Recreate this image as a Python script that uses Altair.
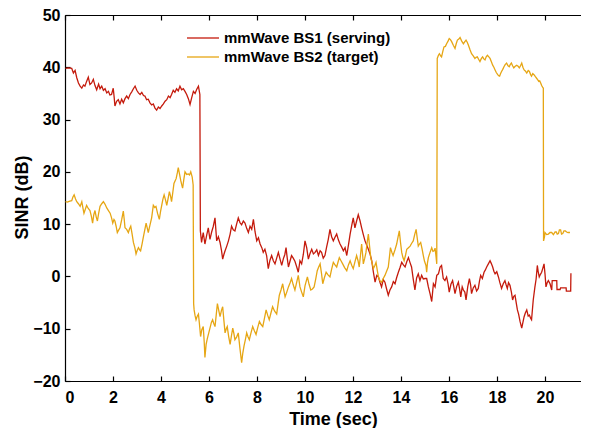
import altair as alt
import pandas as pd

# ---------------- data ----------------
series_names = ["mmWave BS1 (serving)", "mmWave BS2 (target)"]
series_colors = ["#C41A0C", "#E6A614"]

t_bs1 = [0.02, 0.15, 0.28, 0.35, 0.42, 0.49, 0.56, 0.63, 0.70, 0.77, 0.83, 0.90, 0.97, 1.04, 1.11, 1.18,
         1.25, 1.32, 1.40, 1.46, 1.53, 1.60, 1.67, 1.74, 1.81, 1.87, 1.94, 2.01, 2.05, 2.08, 2.15, 2.22,
         2.29, 2.36, 2.43, 2.50, 2.57, 2.64, 2.71, 2.78, 2.85, 2.92, 2.99, 3.06, 3.13, 3.20, 3.27, 3.33,
         3.40, 3.47, 3.54, 3.61, 3.68, 3.75, 3.82, 3.89, 3.96, 4.03, 4.10, 4.17, 4.24, 4.31, 4.38, 4.44,
         4.51, 4.58, 4.65, 4.72, 4.79, 4.86, 4.93, 5.00, 5.07, 5.14, 5.21, 5.28, 5.35, 5.42, 5.49, 5.56,
         5.62, 5.64, 5.69, 5.76, 5.83, 5.90, 5.97, 6.04, 6.11, 6.18, 6.25, 6.32, 6.39, 6.46, 6.52, 6.57,
         6.62, 6.67, 6.74, 6.81, 6.88, 6.94, 7.01, 7.08, 7.15, 7.22, 7.29, 7.36, 7.43, 7.50, 7.57, 7.64,
         7.71, 7.78, 7.85, 7.92, 7.99, 8.06, 8.13, 8.20, 8.26, 8.33, 8.40, 8.47, 8.54, 8.61, 8.68, 8.75,
         8.82, 8.89, 8.96, 9.03, 9.10, 9.16, 9.21, 9.26, 9.31, 9.38, 9.44, 9.51, 9.58, 9.65, 9.72, 9.79,
         9.86, 9.93, 10.00, 10.07, 10.14, 10.21, 10.28, 10.35, 10.42, 10.49, 10.56, 10.63, 10.69, 10.76,
         10.83, 10.90, 10.97, 11.04, 11.11, 11.18, 11.25, 11.32, 11.39, 11.46, 11.53, 11.60, 11.67, 11.74,
         11.81, 11.88, 11.95, 12.01, 12.08, 12.15, 12.22, 12.29, 12.36, 12.43, 12.50, 12.57, 12.64, 12.71,
         12.78, 12.85, 12.92, 12.99, 13.06, 13.13, 13.19, 13.26, 13.33, 13.40, 13.47, 13.54, 13.61, 13.68,
         13.75, 13.82, 13.89, 13.96, 14.03, 14.10, 14.17, 14.24, 14.31, 14.38, 14.44, 14.51, 14.58, 14.65,
         14.72, 14.79, 14.86, 14.93, 15.00, 15.07, 15.14, 15.21, 15.28, 15.35, 15.42, 15.49, 15.56, 15.63,
         15.69, 15.76, 15.83, 15.90, 15.96, 16.01, 16.08, 16.15, 16.20, 16.25, 16.32, 16.39, 16.44, 16.49,
         16.55, 16.60, 16.66, 16.71, 16.78, 16.85, 16.90, 16.94, 17.01, 17.08, 17.15, 17.22, 17.27, 17.32,
         17.39, 17.46, 17.51, 17.57, 17.64, 17.71, 17.76, 17.82, 17.87, 17.92, 17.99, 18.06, 18.12, 18.19,
         18.26, 18.33, 18.38, 18.43, 18.48, 18.54, 18.60, 18.65, 18.70, 18.75, 18.80, 18.85, 18.90, 18.96,
         19.03, 19.08, 19.13, 19.18, 19.24, 19.30, 19.35, 19.40, 19.44, 19.51, 19.58, 19.63, 19.68, 19.72,
         19.76, 19.81, 19.86, 19.91, 19.96, 20.00, 20.04, 20.09, 20.14, 20.21, 20.28, 20.30, 20.49, 20.50,
         20.63, 20.65, 20.88, 20.89, 21.07, 21.08]
v_bs1 = [39.8, 39.9, 39.8, 38.9, 39.4, 38.0, 37.0, 36.4, 36.0, 36.6, 36.4, 37.3, 38.1, 36.7, 37.0, 37.7,
         36.5, 35.7, 36.8, 35.9, 36.4, 35.6, 35.9, 35.1, 35.4, 34.7, 34.8, 36.0, 34.2, 32.6, 33.5, 33.8,
         33.0, 33.9, 33.2, 34.0, 34.5, 34.0, 34.8, 35.3, 35.9, 36.4, 35.6, 35.1, 34.8, 35.2, 34.6, 34.5,
         33.8, 33.9, 33.2, 32.8, 33.0, 32.2, 31.8, 32.4, 32.1, 32.6, 33.0, 33.5, 33.8, 34.5, 34.2, 34.8,
         35.6, 35.2, 35.9, 35.5, 36.4, 35.7, 35.9, 35.4, 34.8, 34.0, 32.9, 34.2, 35.4, 35.0, 35.8, 36.4,
         34.8, 8.7, 6.5, 8.4, 6.2, 7.8, 9.3, 7.1, 8.5, 9.6, 11.2, 6.8, 7.6, 6.5, 5.0, 3.3,
         4.2, 4.9, 5.8, 6.8, 8.1, 9.6, 8.9, 8.7, 10.0, 11.2, 10.3, 9.9, 10.6, 10.2, 9.2, 8.4,
         9.6, 9.0, 10.9, 8.5, 6.8, 7.4, 6.2, 5.5, 4.6, 5.2, 4.0, 1.5, 3.1, 4.0, 3.0, 2.4,
         3.5, 4.6, 3.3, 2.1, 3.4, 4.2, 5.5, 3.5, 1.8, 3.0, 4.0, 3.5, 2.9, 1.9, 0.8, 3.0,
         2.4, 4.2, 6.8, 5.5, 3.3, 4.4, 5.2, 4.3, 4.6, 5.1, 4.0, 4.9, 4.6, 3.5,
         4.0, 5.6, 7.1, 9.0, 7.6, 6.8, 7.5, 8.1, 7.0, 6.2, 5.6, 4.9, 5.5, 4.0,
         6.0, 8.1, 9.8, 11.2, 9.3, 10.6, 11.8, 10.7, 9.3, 8.0, 6.8, 6.0, 5.2, 4.3,
         3.0, 0.8, -1.1, 0.2, -0.1, -1.2, -2.0, -0.6, -1.1, -2.4, -3.6, -2.6, -2.0, -1.0,
         -1.4, -0.2, 0.8, 1.7, 2.7, 2.2, 1.8, 2.8, 3.6, 2.6, 1.8, -0.5, -2.6, -0.3,
         0.5, -0.8, 0.2, -0.5, -0.4, -0.4, -2.0, -3.3, -4.8, -1.4, -2.0, 0.2, 0.5, 1.8,
         2.1, -0.4, -0.8, -0.1, -1.4, -3.0, -1.5, -0.8, -2.0, -3.3, -1.9, -1.1, -2.4, -3.9,
         -2.0, -2.6, -3.0, -4.5, -2.0, -0.4, -1.6, -3.3, -2.2, -1.7, -2.8, -2.3, -0.9, 0.2,
         -0.4, 0.8, 1.2, 1.8, 2.4, 3.0, 2.5, 1.8, 1.0, 0.5, 0.9, -0.1, -1.2, -2.3,
         -1.4, -0.8, -1.6, -2.3, -1.2, -1.7, -3.0, -4.5, -3.8, -3.6, -5.0, -6.4, -7.2, -8.6,
         -9.9, -8.8, -7.7, -7.0, -6.4, -7.6, -7.4, -8.0, -8.3, -4.5, -2.0, -0.5, 2.1, 0.8,
         -0.1, 0.4, 0.8, 1.6, 2.4, 0.5, -2.0, -1.2, -0.8, -1.4, -2.6, -0.8, -0.8, -2.5,
         -2.5, -2.2, -2.2, -2.8, -2.8, 0.6]

t_bs2 = [0.02, 0.10, 0.20, 0.28, 0.33, 0.38, 0.44, 0.49, 0.56, 0.63, 0.70, 0.75, 0.79, 0.85, 0.90, 0.97,
         1.04, 1.10, 1.15, 1.20, 1.25, 1.30, 1.35, 1.40, 1.46, 1.53, 1.60, 1.67, 1.74, 1.81, 1.88, 1.94,
         1.99, 2.04, 2.08, 2.13, 2.18, 2.24, 2.29, 2.36, 2.43, 2.47, 2.50, 2.57, 2.64, 2.69, 2.74, 2.80,
         2.85, 2.91, 2.96, 3.01, 3.06, 3.11, 3.15, 3.21, 3.26, 3.32, 3.38, 3.43, 3.47, 3.54, 3.61, 3.65,
         3.68, 3.74, 3.79, 3.86, 3.93, 3.98, 4.03, 4.08, 4.13, 4.19, 4.24, 4.30, 4.35, 4.40, 4.44, 4.49,
         4.54, 4.59, 4.63, 4.68, 4.72, 4.77, 4.82, 4.86, 4.90, 4.95, 5.00, 5.07, 5.14, 5.19, 5.24, 5.30,
         5.34, 5.36, 5.38, 5.42, 5.46, 5.51, 5.56, 5.60, 5.65, 5.70, 5.76, 5.80, 5.83, 5.88, 5.93, 5.99,
         6.04, 6.10, 6.15, 6.20, 6.25, 6.30, 6.35, 6.41, 6.46, 6.52, 6.57, 6.62, 6.67, 6.72, 6.76, 6.82,
         6.88, 6.94, 6.99, 7.04, 7.08, 7.15, 7.22, 7.29, 7.36, 7.41, 7.46, 7.52, 7.57, 7.62, 7.68, 7.75,
         7.82, 7.89, 7.96, 8.03, 8.10, 8.17, 8.24, 8.31, 8.38, 8.45, 8.51, 8.58, 8.65, 8.73, 8.82, 8.88,
         8.93, 9.00, 9.07, 9.12, 9.17, 9.24, 9.31, 9.38, 9.44, 9.51, 9.58, 9.65, 9.72, 9.79, 9.86, 9.93,
         10.00, 10.10, 10.17, 10.24, 10.31, 10.38, 10.45, 10.51, 10.57, 10.63, 10.69, 10.74, 10.81, 10.88,
         10.96, 11.04, 11.11, 11.18, 11.25, 11.32, 11.38, 11.43, 11.50, 11.57, 11.65, 11.74, 11.81, 11.88,
         11.95, 12.01, 12.08, 12.15, 12.21, 12.26, 12.31, 12.36, 12.40, 12.43, 12.49, 12.54, 12.59, 12.64,
         12.69, 12.74, 12.80, 12.85, 12.91, 12.96, 13.01, 13.06, 13.12, 13.19, 13.26, 13.33, 13.40, 13.47,
         13.52, 13.56, 13.62, 13.67, 13.75, 13.82, 13.88, 13.93, 13.98, 14.03, 14.08, 14.13, 14.19, 14.24,
         14.31, 14.38, 14.44, 14.51, 14.57, 14.63, 14.68, 14.72, 14.77, 14.82, 14.88, 14.93, 14.98, 15.04,
         15.07, 15.10, 15.14, 15.21, 15.28, 15.33, 15.38, 15.42, 15.46, 15.49, 15.51, 15.56, 15.60, 15.65,
         15.69, 15.74, 15.79, 15.85, 15.90, 15.96, 16.01, 16.06, 16.11, 16.18, 16.25, 16.30, 16.35, 16.41,
         16.46, 16.53, 16.60, 16.66, 16.71, 16.76, 16.81, 16.88, 16.94, 17.01, 17.08, 17.13, 17.18, 17.24,
         17.29, 17.35, 17.40, 17.45, 17.50, 17.55, 17.60, 17.66, 17.71, 17.77, 17.82, 17.87, 17.92, 17.97,
         18.03, 18.07, 18.11, 18.15, 18.19, 18.24, 18.29, 18.34, 18.40, 18.46, 18.51, 18.55, 18.60, 18.65,
         18.70, 18.76, 18.82, 18.88, 18.93, 18.98, 19.03, 19.08, 19.13, 19.18, 19.24, 19.30, 19.35, 19.40,
         19.44, 19.49, 19.54, 19.60, 19.65, 19.70, 19.74, 19.78, 19.82, 19.86, 19.90, 19.93, 19.94, 19.98,
         20.00, 20.07, 20.14, 20.21, 20.28, 20.35, 20.42, 20.47, 20.51, 20.56, 20.60, 20.65, 20.69, 20.74,
         20.79, 20.85, 20.90, 20.96, 21.04]
v_bs2 = [14.3, 14.2, 14.4, 14.5, 15.2, 15.6, 14.8, 14.3, 13.9, 13.4, 14.3, 13.0, 12.1, 12.9, 13.6, 13.0,
         12.6, 11.5, 10.2, 11.8, 12.6, 11.4, 10.6, 12.0, 13.4, 13.9, 14.3, 13.8, 13.1, 12.6, 12.1, 11.2,
         10.2, 10.9, 10.6, 9.6, 8.4, 8.9, 9.3, 10.8, 12.5, 10.8, 9.3, 9.0, 8.4, 9.1, 9.6, 8.0,
         6.5, 5.5, 4.3, 5.0, 5.5, 5.1, 4.9, 6.2, 7.4, 8.8, 10.2, 9.2, 8.4, 9.8, 11.2, 12.6,
         13.6, 13.2, 13.4, 12.0, 10.9, 12.4, 13.6, 14.8, 15.6, 14.6, 13.6, 15.0, 16.2, 15.3, 14.3, 16.0,
         17.8, 18.3, 18.7, 19.8, 20.8, 19.6, 18.4, 17.6, 16.9, 18.5, 20.0, 19.5, 19.6, 19.4, 20.0, 19.0,
         17.5, -5.2, -6.4, -7.5, -8.3, -7.6, -7.2, -9.0, -11.5, -10.2, -9.6, -12.5, -15.5, -13.0, -11.9, -10.8,
         -9.9, -8.8, -8.3, -9.0, -9.6, -7.4, -5.2, -6.6, -7.7, -6.5, -5.8, -8.4, -10.8, -10.0, -9.6, -11.5,
         -13.0, -11.2, -9.9, -11.0, -12.1, -11.6, -10.8, -13.8, -16.5, -14.6, -13.3, -12.0, -10.8, -11.5, -12.1, -10.8,
         -9.6, -10.4, -11.1, -9.8, -8.6, -9.2, -9.6, -8.0, -6.4, -7.5, -8.3, -7.0, -5.8, -6.6, -7.2, -5.2,
         -3.6, -2.6, -1.4, -2.7, -3.9, -3.0, -2.0, -1.2, -0.4, -1.6, -2.6, -1.2, 0.2, -2.0, -3.0, -3.9,
         -1.8, -0.1, -1.5, -2.6, -2.4, -2.0, -0.4, 1.1, 1.8, 2.4, 0.5, -1.4, -0.2, 0.8,
         0.3, -0.1, 1.4, 2.7, 2.2, 1.8, 2.8, 3.6, 3.0, 2.4, 1.7, 1.1, 2.2, 3.0,
         2.1, 1.5, 2.8, 4.0, 3.0, 1.8, 4.0, 6.2, 4.2, 2.4, 3.5, 4.6, 6.5, 8.1,
         5.8, 3.6, 2.5, 1.5, 2.1, 2.7, 1.2, -0.1, -0.8, -1.1, -0.4, 0.2, 1.0, 1.8,
         3.8, 5.5, 4.6, 4.0, 5.1, 6.2, 7.6, 8.7, 6.5, 4.6, 3.6, 3.0, 4.1, 5.2,
         5.5, 5.8, 6.3, 6.8, 8.0, 9.0, 7.2, 5.8, 6.2, 6.5, 5.2, 4.0, 2.9, 2.1,
         0.8, 2.5, 3.6, 4.6, 5.5, 4.8, 4.9, 5.4, 3.8, 2.4, 41.7, 42.3, 42.6, 42.2,
         42.0, 43.0, 43.9, 44.0, 44.5, 45.0, 45.5, 45.3, 44.9, 44.2, 43.6, 44.5, 45.2, 45.4,
         45.7, 45.0, 44.5, 44.9, 45.2, 44.8, 44.2, 43.3, 42.6, 42.2, 41.7, 41.9, 42.0, 41.5,
         41.1, 41.7, 42.0, 41.6, 41.4, 42.0, 42.3, 42.0, 41.7, 41.0, 40.4, 40.0, 39.5, 39.0,
         38.6, 38.4, 38.3, 38.8, 39.2, 39.6, 40.1, 40.5, 40.8, 40.3, 40.1, 40.5, 40.8, 40.3,
         39.9, 40.2, 40.4, 40.2, 39.9, 40.3, 40.8, 40.0, 39.5, 39.3, 38.9, 39.4, 39.2, 38.6,
         38.3, 38.8, 38.6, 38.2, 37.9, 37.6, 37.3, 37.4, 37.0, 36.5, 36.2, 36.0, 6.8, 7.6,
         8.4, 8.0, 8.1, 8.4, 8.4, 8.0, 8.5, 8.5, 8.1, 8.2, 8.9, 8.9, 8.1, 8.2,
         8.7, 8.7, 8.5, 8.4, 8.4]

x_ticks = [0, 2, 4, 6, 8, 10, 12, 14, 16, 18, 20]
y_ticks = [-20, -10, 0, 10, 20, 30, 40, 50]
x_domain = [0, 21.5]
y_domain = [-20, 50]

# ---------------- table ----------------
df = pd.concat([
    pd.DataFrame({"t": t_bs1, "v": v_bs1, "series": series_names[0]}),
    pd.DataFrame({"t": t_bs2, "v": v_bs2, "series": series_names[1]}),
], ignore_index=True)
df["i"] = range(len(df))

FONT = "Liberation Sans"
W, H = 516, 366
xs = alt.Scale(domain=x_domain, nice=False, zero=False)
ys = alt.Scale(domain=y_domain, nice=False, zero=False)

main_x_axis = alt.Axis(orient="bottom", values=x_ticks, ticks=False, domain=True, grid=False,
                       labelFontSize=16, labelFont=FONT, labelFontWeight="bold", labelColor="black",
                       labelPadding=8, domainColor="black", domainWidth=1.2,
                       title="Time (sec)", titleFontSize=18, titleFont=FONT, titleFontWeight="bold",
                       titleColor="black", titleX=268, titleY=43, titleBaseline="alphabetic",
                       titleAlign="center")
main_y_axis = alt.Axis(orient="left", values=y_ticks, ticks=False, domain=True, grid=False,
                       labelFontSize=16, labelFont=FONT, labelFontWeight="bold", labelColor="black",
                       labelPadding=5, domainColor="black", domainWidth=1.2,
                       title="SINR (dB)", titleFontSize=18, titleFont=FONT, titleFontWeight="bold",
                       titleColor="black", titleX=-43, titleY=182, titleAngle=270,
                       titleBaseline="middle", titleAlign="center")

# legend symbol: a long horizontal stroke drawn from a small symbol size
lines = alt.Chart(df).mark_line(strokeWidth=1.3, clip=True).encode(
    x=alt.X("t:Q", scale=xs, axis=main_x_axis),
    y=alt.Y("v:Q", scale=ys, axis=main_y_axis),
    color=alt.Color("series:N", scale=alt.Scale(domain=series_names, range=series_colors),
                    legend=alt.Legend(title=None, orient="none", legendX=129, legendY=14,
                                      symbolType="M-2,0H2", symbolSize=256, symbolStrokeWidth=1.3,
                                      symbolFillColor="transparent",
                                      labelFontSize=15, labelFont=FONT, labelFontWeight="bold",
                                      labelColor="black", labelOffset=12, labelLimit=400,
                                      padding=0, rowPadding=2)),
    order="i:Q",
)

# inward ticks on bottom and left
ticks_bl = alt.Chart(df).mark_point(opacity=0).encode(
    x=alt.X("t:Q", scale=xs, axis=alt.Axis(orient="bottom", offset=-5, values=x_ticks, ticks=True,
                                           tickSize=5, tickColor="black", tickWidth=1.2,
                                           domain=False, labels=False, grid=False, title=None)),
    y=alt.Y("v:Q", scale=ys, axis=alt.Axis(orient="left", offset=-5, values=y_ticks, ticks=True,
                                           tickSize=5, tickColor="black", tickWidth=1.2,
                                           domain=False, labels=False, grid=False, title=None)),
)
# top frame line
top_line = alt.Chart(df).mark_point(opacity=0).encode(
    x=alt.X("t:Q", scale=xs, axis=alt.Axis(orient="top", values=x_ticks, ticks=False, domain=True,
                                           domainColor="black", domainWidth=1.2,
                                           labels=False, grid=False, title=None)),
    y=alt.Y("v:Q", scale=ys, axis=None),
)
# inward ticks on top
top_ticks = alt.Chart(df).mark_point(opacity=0).encode(
    x=alt.X("t:Q", scale=xs, axis=alt.Axis(orient="top", offset=-5, values=x_ticks, ticks=True,
                                           tickSize=5, tickColor="black", tickWidth=1.2,
                                           domain=False, labels=False, grid=False, title=None)),
    y=alt.Y("v:Q", scale=ys, axis=None),
)

chart = alt.layer(lines, ticks_bl, top_line, top_ticks).resolve_axis(
    x="independent", y="independent"
).properties(
    width=W, height=H,
    autosize=alt.AutoSizeParams(type="none"),
    padding={"left": 57, "top": 7, "right": 0, "bottom": 47},
    background="white",
).configure_view(stroke=None)

chart.save("out.html", embed_options={"renderer": "svg", "actions": False})
